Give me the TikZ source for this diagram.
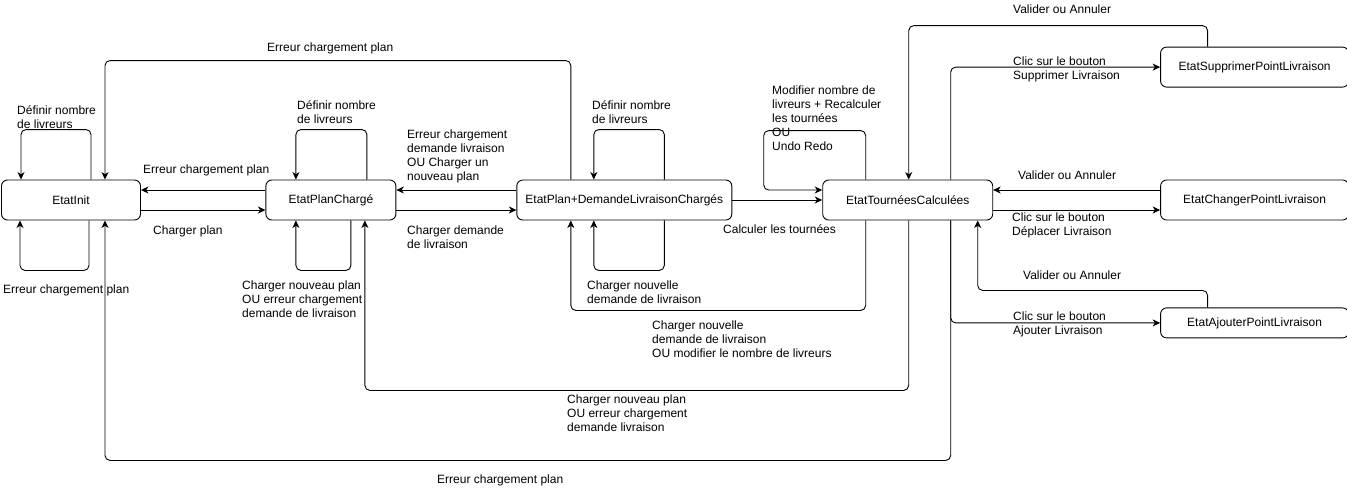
\documentclass[tikz,border=0pt]{standalone}
\usepackage{fontspec}
\setmainfont{Liberation Sans}
\usetikzlibrary{positioning,arrows.meta,calc}

\begin{document}
\begin{tikzpicture}[x=1pt, y=-1pt, %
        etat/.style={draw, rounded corners=6pt, line width=0.9pt,
          minimum width=#1, minimum height=40pt, inner sep=2pt,
          font=\fontsize{12pt}{14pt}\selectfont},
        etat/.default=130pt,
        fl/.style={-{Stealth[length=7.5pt,width=7pt,inset=2.2pt]},
          rounded corners=5pt, line width=0.9pt},
        lbl/.style={anchor=base west, align=left, inner sep=0pt,
          font=\fontsize{12pt}{14pt}\selectfont}
        ]
        \useasboundingbox (0,0) rectangle (1347,491);
        % etats
        \node[etat=139pt] (init) at (71,200) {EtatInit};
        \node[etat=130pt, right=124.5pt of init] (plan) {EtatPlanChargé};
        \node[etat=215pt, right=120pt of plan] (pdl) {EtatPlan+DemandeLivraisonChargés};
        \node[etat=170pt, right=90pt of pdl] (tour) {EtatTournéesCalculées};
        \node[etat=188pt, right=167pt of tour] (chg) {EtatChangerPointLivraison};
        \node[etat=188pt, above=92pt of chg] (supp) {EtatSupprimerPointLivraison};
        \node[etat=188pt, minimum height=30pt, below=87pt of chg] (ajt) {EtatAjouterPointLivraison};
        % transitions EtatInit / EtatPlanCharge
        \draw[fl] ([xshift=20pt]init.north) -- ++(0,-50) -| ([xshift=-50pt]init.north);
        \draw[fl] ([xshift=18pt]init.south) -- ++(0,50) -| ([xshift=-51pt]init.south);
        \draw[fl] ([yshift=10pt]plan.west) -- ([yshift=10pt]init.east);
        \draw[fl] ([yshift=-10pt]init.east) -- ([yshift=-10pt]plan.west);
        \draw[fl] ([xshift=36pt]plan.north) -- ++(0,-50) -| ([xshift=-35pt]plan.north);
        \draw[fl] ([xshift=20pt]plan.south) -- ++(0,50) -| ([xshift=-35pt]plan.south);
        \draw[fl] ([yshift=10pt]pdl.west) -- ([yshift=10pt]plan.east);
        \draw[fl] ([yshift=-10pt]plan.east) -- ([yshift=-10pt]pdl.west);
        % transitions EtatPlan+DemandeLivraisonCharges
        \draw[fl] ([xshift=40pt]pdl.north) -- ++(0,-50) -| ([xshift=-30.5pt]pdl.north);
        \draw[fl] ([xshift=40pt]pdl.south) -- ++(0,50) -| ([xshift=-30.5pt]pdl.south);
        \draw[fl] ([xshift=-53.5pt]pdl.north) -- ++(0,-119) -| ([xshift=34pt]init.north);
        \draw[fl] (pdl) -- (tour);
        % transitions EtatTourneesCalculees
        \draw[fl] ([xshift=-42pt]tour.north) -- ++(0,-49) -- ++(-102,0) |- ([yshift=10pt]tour.west);
        \draw[fl] ([xshift=-42pt]tour.south) -- ++(0,90) -| ([xshift=-53.5pt]pdl.south);
        \draw[fl] ([xshift=1pt]tour.south) -- ++(0,170) -| ([xshift=34pt]plan.south);
        \draw[fl] ([xshift=43pt]tour.south) -- ++(0,240) -| ([xshift=34pt]init.south);
        \draw[fl] ([xshift=43pt]tour.south) |- (ajt.west);
        \draw[fl] ([xshift=43pt]tour.north) |- (supp.west);
        \draw[fl] ([xshift=-47pt]supp.north) -- ++(0,-21) -| ([xshift=1pt]tour.north);
        \draw[fl] ([yshift=10pt]chg.west) -- ([yshift=10pt]tour.east);
        \draw[fl] ([yshift=-10pt]tour.east) -- ([yshift=-10pt]chg.west);
        \draw[fl] ([xshift=-47pt]ajt.north) -- ++(0,-17) -| ([xshift=70pt]tour.south);
        % labels (base = last line)
        \node[lbl] (l1) at (267,51) {Erreur chargement plan};
        \node[lbl] (l2) at (17,128) {Définir nombre\\de livreurs};
        \node[lbl] (l3) at (3,293) {Erreur chargement plan};
        \node[lbl] (l4) at (143,173) {Erreur chargement plan};
        \node[lbl] (l5) at (153,234) {Charger plan};
        \node[lbl] (l6) at (297,123) {Définir nombre\\de livreurs};
        \node[lbl] (l7) at (242,317) {Charger nouveau plan\\OU erreur chargement\\demande de livraison};
        \node[lbl] (l8) at (407,180) {Erreur chargement\\demande livraison\\OU Charger un\\nouveau plan};
        \node[lbl] (l9) at (407,248) {Charger demande\\de livraison};
        \node[lbl] (l10) at (592,123) {Définir nombre\\de livreurs};
        \node[lbl] (l11) at (587,303) {Charger nouvelle\\demande de livraison};
        \node[lbl] (l12) at (723,233) {Calculer les tournées};
        \node[lbl] (l13) at (772,150) {Modifier nombre de\\livreurs + Recalculer\\les tournées\\OU\\Undo Redo};
        \node[lbl] (l14) at (652,357) {Charger nouvelle\\demande de livraison\\OU modifier le nombre de livreurs};
        \node[lbl] (l15) at (567,431) {Charger nouveau plan\\OU erreur chargement\\demande livraison};
        \node[lbl] (l16) at (437,483) {Erreur chargement plan};
        \node[lbl] (l17) at (1013,13) {Valider ou Annuler};
        \node[lbl] (l18) at (1013,79) {Clic sur le bouton\\Supprimer Livraison};
        \node[lbl] (l19) at (1018,179) {Valider ou Annuler};
        \node[lbl] (l20) at (1012,235) {Clic sur le bouton\\Déplacer Livraison};
        \node[lbl] (l21) at (1023,279) {Valider ou Annuler};
        \node[lbl] (l22) at (1013,334) {Clic sur le bouton\\Ajouter Livraison};
\end{tikzpicture}
\end{document}
